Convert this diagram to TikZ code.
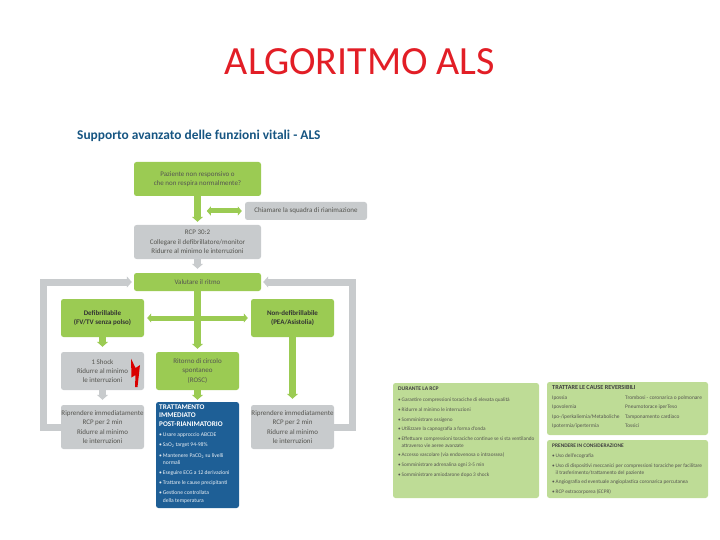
\documentclass[tikz,border=0pt]{standalone}
\usepackage{fontspec}
\setmainfont{Carlito}
\usetikzlibrary{arrows.meta}
\definecolor{grn}{RGB}{155,203,83}
\definecolor{gry}{RGB}{200,203,205}
\definecolor{blu}{RGB}{30,95,150}
\definecolor{pale}{RGB}{190,220,150}
\definecolor{ttl}{RGB}{226,30,38}
\definecolor{sub}{RGB}{22,85,130}
\definecolor{txt}{RGB}{85,85,80}
\tikzset{
 x=1pt,y=-1pt,
 bx/.style={rounded corners=2.5pt,inner sep=0pt,align=center,text=txt,font=\fontsize{7}{9.3}\selectfont},
 gbox/.style={bx,fill=grn},
 ggbox/.style={bx,fill=gry},
 panel/.style={fill=pale,rounded corners=2.5pt,inner sep=0pt},
 tipped/.style={-{Triangle[width=11pt,length=5pt]},line width=6.5pt},
 garrow/.style={tipped,draw=grn},
 yarrow/.style={tipped,draw=gry},
 dblarrow/.style={{Triangle[width=9pt,length=4pt]}-{Triangle[width=9pt,length=4pt]},line width=5pt,draw=grn},
 ptext/.style={anchor=north west,inner sep=0pt,align=left,text=txt},
}
\newcommand{\bul}{\textbullet\,}
\begin{document}
\begin{tikzpicture}
\useasboundingbox (0,0) rectangle (720,540);
\node[text=ttl,font=\fontsize{40}{44}\selectfont] (title) at (360,62) {ALGORITMO ALS};
\node[text=sub,font=\fontsize{13.4}{15}\selectfont\bfseries,anchor=west,inner sep=0pt] (subt) at (77,136) {Supporto avanzato delle funzioni vitali - ALS};
\coordinate (loopL) at (43.5,282);
\coordinate (loopR) at (352,282);
% boxes
\node[gbox,minimum width=127pt,minimum height=34pt] (q) at (197.5,179) {Paziente non responsivo o\\che non respira normalmente?};
\node[ggbox,minimum width=122pt,minimum height=18pt] (team) at (306,211) {Chiamare la squadra di rianimazione};
\node[ggbox,minimum width=127pt,minimum height=34pt] (rcp) at (197.5,242) {RCP 30:2\\Collegare il defibrillatore/monitor\\Ridurre al minimo le interruzioni};
\node[gbox,minimum width=127pt,minimum height=18pt] (val) at (197.5,282) {Valutare il ritmo};
\node[gbox,minimum width=83pt,minimum height=38pt,text=black!80,font=\fontsize{7}{9}\selectfont\bfseries] (def) at (102.5,318) {Defibrillabile\\(FV/TV senza polso)};
\node[gbox,minimum width=83pt,minimum height=38pt,text=black!80,font=\fontsize{7}{9}\selectfont\bfseries] (nodef) at (292.5,318) {Non-defibrillabile\\(PEA/Asistolia)};
\node[ggbox,minimum width=83pt,minimum height=38pt] (shock) at (102.5,371) {1 Shock\\Ridurre al minimo\\le interruzioni};
\node[gbox,minimum width=83pt,minimum height=38pt] (rosc) at (197.5,371) {Ritorno di circolo\\spontaneo\\(ROSC)};
\node[ggbox,minimum width=83pt,minimum height=44pt] (ripL) at (102.5,427) {Riprendere immediatamente\\RCP per 2 min\\Ridurre al minimo\\le interruzioni};
\node[ggbox,minimum width=83pt,minimum height=44pt] (ripR) at (292.5,427) {Riprendere immediatamente\\RCP per 2 min\\Ridurre al minimo\\le interruzioni};
\node[bx,fill=blu,minimum width=83pt,minimum height=106pt] (post) at (197.5,455) {};
% connectors
\draw[garrow] (q.south) -- ([yshift=3pt]rcp.north);
\draw[dblarrow] ([xshift=-38pt]team.west) -- ([xshift=-3pt]team.west);
\draw[yarrow] (rcp.south) -- ([yshift=4pt]val.north);
\draw[yarrow,line width=7pt,shorten >=2pt] (ripL.west) -| (loopL) -- (val.west);
\draw[yarrow,line width=7pt,shorten >=2pt] (ripR.east) -| (loopR) -- (val.east);
\draw[garrow] (val.south) -- ([yshift=3pt]rosc.north);
\draw[dblarrow] ([xshift=3pt]def.east) -- ([xshift=-3pt]nodef.west);
\draw[garrow] (def.south) -- ([yshift=5pt]shock.north);
\draw[yarrow] (shock.south) -- ([yshift=5pt]ripL.north);
\draw[garrow] (rosc.south) -- ([yshift=2pt]post.north);
\draw[garrow] (nodef.south) -- ([yshift=6pt]ripR.north);
% bolt
\fill[red!85!black] (131,358.5) -- (135.5,368) -- (140,365) -- (137.5,387) -- (135,387) -- (135.5,375) -- (131.5,377.5) -- cycle;
% blue panel text
\node[ptext,text=white,font=\fontsize{7.2}{8.5}\selectfont\bfseries] (posthead) at (159,404.5) {TRATTAMENTO\\IMMEDIATO\\POST-RIANIMATORIO};
\node[ptext,text=white!90!blu,font=\fontsize{5.6}{7.6}\selectfont] (postlist) at (159,432.5) {\bul Usare approccio ABCDE\\[2.6pt]\bul SaO\textsubscript{2} target 94-98\%\\[2.8pt]\bul Mantenere PaCO\textsubscript{2} su livelli\\\phantom{\bul}normali\\[1.8pt]\bul Eseguire ECG a 12 derivazioni\\[2.8pt]\bul Trattare le cause precipitanti\\[2.8pt]\bul Gestione controllata\\\phantom{\bul}della temperatura};
% right panels
\node[panel,minimum width=146pt,minimum height=115pt] (during) at (466,440.5) {};
\node[panel,minimum width=161pt,minimum height=53pt] (causes) at (627.5,408.5) {};
\node[panel,minimum width=161pt,minimum height=58pt] (consid) at (627.5,469) {};
\node[ptext,text=black!75,font=\fontsize{5.6}{7}\selectfont\bfseries] (dhead) at (398,387) {DURANTE LA RCP};
\node[ptext,font=\fontsize{5.25}{7}\selectfont] (dlist) at (398,398) {\bul Garantire compressioni toraciche di elevata qualità\\[2.6pt]\bul Ridurre al minimo le interruzioni\\[2.6pt]\bul Somministrare ossigeno\\[2.6pt]\bul Utilizzare la capnografia a forma d'onda\\[2.6pt]\bul Effettuare compressioni toraciche continue se si sta ventilando\\\phantom{\bul}attraverso vie aeree avanzate\\[2.6pt]\bul Accesso vascolare (via endovenosa o intraossea)\\[2.6pt]\bul Somministrare adrenalina ogni 3-5 min\\[2.6pt]\bul Somministrare amiodarone dopo 3 shock};
\node[ptext,text=black!75,font=\fontsize{6.2}{7}\selectfont\bfseries] (chead) at (552,385.5) {TRATTARE LE CAUSE REVERSIBILI};
\node[ptext,font=\fontsize{5.4}{9.4}\selectfont] (ccol1) at (552,395.5) {Ipossia\\Ipovolemia\\Ipo-/iperkaliemia/Metaboliche\\Ipotermia/ipertermia};
\node[ptext,font=\fontsize{5.4}{9.4}\selectfont] (ccol2) at (625,395.5) {Trombosi - coronarica o polmonare\\Pneumotorace iperTeso\\Tamponamento cardiaco\\Tossici};
\node[ptext,text=black!75,font=\fontsize{5.4}{7}\selectfont\bfseries] (phead) at (552,444) {PRENDERE IN CONSIDERAZIONE};
\node[ptext,font=\fontsize{5.3}{6.6}\selectfont] (plist) at (552,454) {\bul Uso dell'ecografia\\[3pt]\bul Uso di dispositivi meccanici per compressioni toraciche per facilitare\\\phantom{\bul}il trasferimento/trattamento del paziente\\[2.4pt]\bul Angiografia ed eventuale angioplastica coronarica percutanea\\[3.6pt]\bul RCP extracorporea (ECPR)};
\end{tikzpicture}
\end{document}
